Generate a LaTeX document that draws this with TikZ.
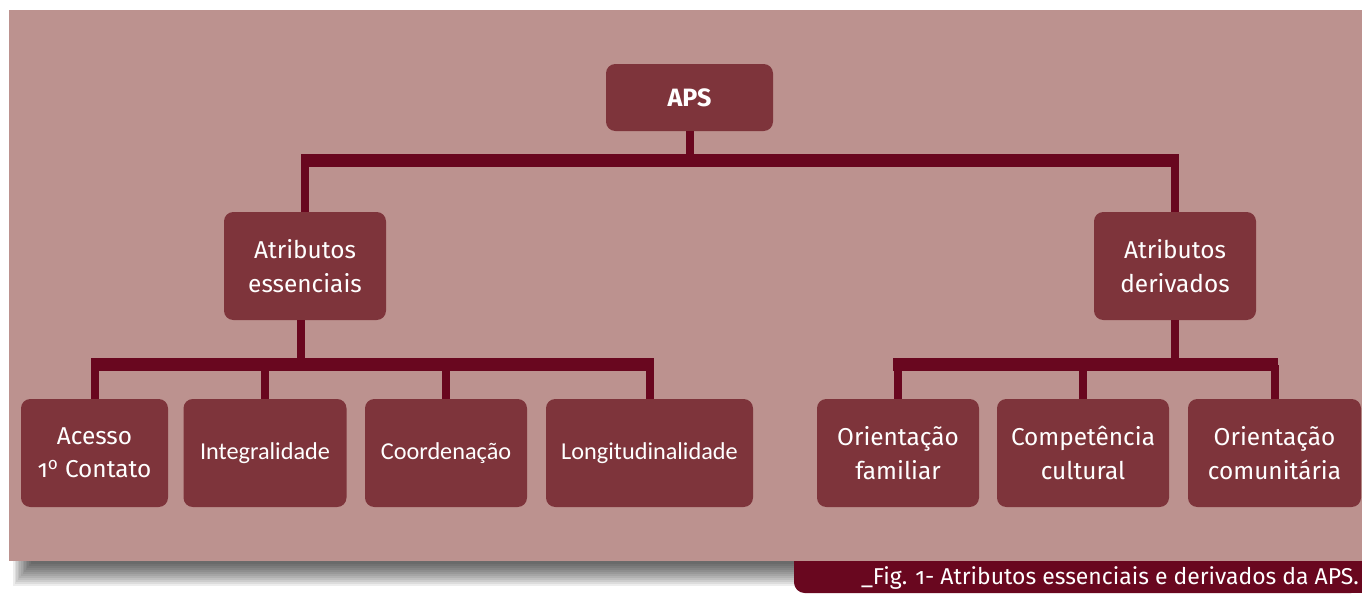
\documentclass[tikz,border=0pt]{standalone}
\usepackage{fontspec}
\setmainfont{Fira Sans}[Numbers=OldStyle]
\newfontfamily\calib{Carlito}
\definecolor{bgc}{RGB}{188,146,143}
\definecolor{boxc}{RGB}{126,52,59}
\definecolor{barc}{RGB}{105,7,31}
\begin{document}
\begin{tikzpicture}[x=0.75pt,y=-0.75pt,
  box/.style={fill=boxc, rounded corners=7pt, text=white, align=center, inner sep=0pt,
    font=\fontsize{18.3}{25}\selectfont},
  cbox/.style={box, font=\calib\fontsize{18.2}{25}\selectfont},
  barline/.style={draw=barc, line width=9.5pt},
  stem/.style={draw=barc, line width=6pt}]
\useasboundingbox (0,0) rectangle (1362,593);
% shadow
\foreach \i in {0,...,11}{
  \fill[black, opacity=0.07] ({13+\i*1.6},{20}) rectangle (1362,{586-2*\i});
}
\fill[bgc] (9,10) rectangle (1362,561);
% caption bar
\fill[barc, rounded corners=8pt] (794,545) rectangle (1362,593);
\fill[barc] (794,561) rectangle (1362,575);
\fill[barc] (1340,561) rectangle (1362,593);
\fill[bgc] (794,540) rectangle (1362,561);
\node[anchor=east, text=white, inner sep=0pt, font=\fontsize{17.2}{20}\selectfont] (cap) at (1359,577.5) {\_Fig. 1- Atributos essenciais e derivados da APS.};
% nodes
\node[box, minimum width={167*0.75pt}, minimum height={67*0.75pt}, font=\bfseries\fontsize{18.8}{20}\selectfont] (aps) at (689.5,97.5) {APS};
\node[box, minimum width={162*0.75pt}, minimum height={108*0.75pt}] (ess) at (305,266) {Atributos\\essenciais};
\node[box, minimum width={162*0.75pt}, minimum height={108*0.75pt}] (der) at (1175,266) {Atributos\\derivados};
\node[box, minimum width={147*0.75pt}, minimum height={108*0.75pt}] (ac) at (94.5,453) {Acesso\\1\textsuperscript{o} Contato};
\node[cbox, minimum width={163*0.75pt}, minimum height={108*0.75pt}] (in) at (265,453) {Integralidade};
\node[cbox, minimum width={162*0.75pt}, minimum height={108*0.75pt}] (co) at (446,453) {Coordenação};
\node[cbox, minimum width={207*0.75pt}, minimum height={108*0.75pt}] (lo) at (649.5,453) {Longitudinalidade};
\node[box, minimum width={162*0.75pt}, minimum height={108*0.75pt}] (of) at (898,453) {Orientação\\familiar};
\node[box, minimum width={172*0.75pt}, minimum height={108*0.75pt}] (cc) at (1083,453) {Competência\\cultural};
\node[box, minimum width={173*0.75pt}, minimum height={108*0.75pt}] (oc) at (1274.5,453) {Orientação\\comunitária};
% bars
\coordinate (b1L) at (301,160.5);
\coordinate (b1R) at (1179,160.5);
\coordinate (b2L) at (91,364.5);
\coordinate (b2R) at (654,364.5);
\coordinate (b3L) at (893,364.5);
\coordinate (b3R) at (1278,364.5);
\draw[stem] (aps.south) -- (aps.south |- b1L);
\draw[stem] (ess.north) -- (ess.north |- b1L);
\draw[stem] (der.north) -- (der.north |- b1L);
\draw[barline] (b1L) -- (b1R);
\draw[stem] ([xshift=-3pt]ess.south) -- ([xshift=-3pt]ess.south |- b2L);
\foreach \n in {ac,in,co,lo}{\draw[stem] (\n.north) -- (\n.north |- b2L);}
\draw[barline] (b2L) -- (b2R);
\draw[stem] (der.south) -- (der.south |- b3L);
\foreach \n in {of,cc,oc}{\draw[stem] (\n.north) -- (\n.north |- b3L);}
\draw[barline] (b3L) -- (b3R);
\end{tikzpicture}
\end{document}
